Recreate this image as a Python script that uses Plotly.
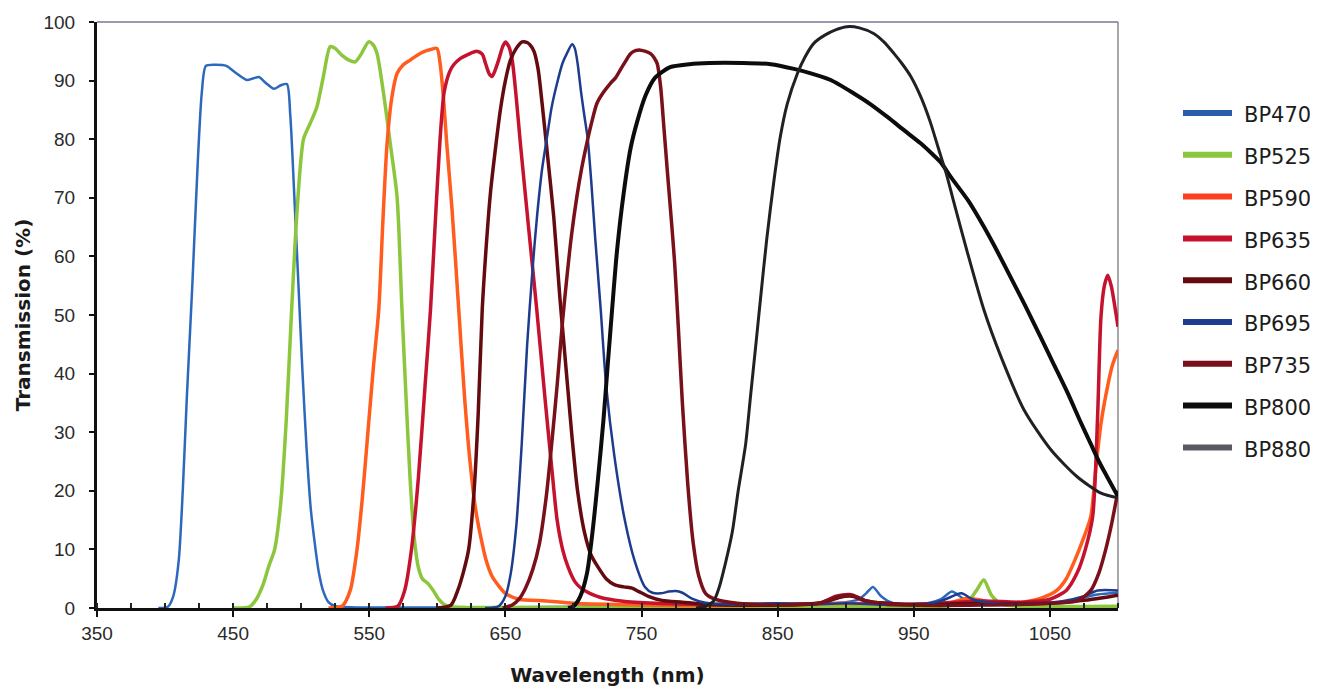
import plotly.graph_objects as go

# ---------------- data ----------------
SERIES = ["BP470", "BP525", "BP590", "BP635", "BP660", "BP695", "BP735", "BP800", "BP880"]

WL_BP470 = [395, 402, 406, 410, 413, 416, 420, 424, 427, 430, 437, 445, 452, 460, 465, 469, 474, 480, 485, 489.5,
            492, 495, 498, 501, 504, 507, 510, 513, 516, 520, 525, 540, 600, 700, 760, 800, 850, 880, 900, 910,
            915, 920, 926, 935, 960, 970, 978, 985, 995, 1020, 1050, 1070, 1085, 1100]
T_BP470 = [0, 0.2, 2, 8, 20, 36, 55, 76, 88, 92.5, 92.7, 92.5, 91.3, 90.1, 90.4, 90.6, 89.6, 88.6, 89.2, 89.4,
           84, 70, 55, 40, 27, 17, 11, 6, 3, 1, 0.3, 0.1, 0.1, 0.2, 0.5, 0.7, 0.8, 0.8, 1, 1.5,
           2.5, 3.6, 2, 0.8, 0.8, 1.5, 2.8, 1.8, 0.8, 0.7, 0.8, 1.5, 2.3, 2.6]

WL_BP525 = [450, 462, 467, 472, 476, 480.5, 485, 489, 493, 497, 501.7, 506.6, 511.5, 516.3, 521.3, 525, 530, 535,
            539.7, 544, 549.5, 552.5, 555.6, 560.5, 565.4, 570.4, 574, 577, 580, 583, 586, 589, 593, 597, 601,
            605, 610, 620, 700, 800, 900, 975, 990, 996, 1001.5, 1007, 1015, 1040, 1100]
T_BP525 = [0, 0.2, 1.5, 4, 7, 10, 18, 32, 51, 68, 80, 82.7, 85.5, 90.7, 95.8, 95.5, 94.3, 93.5,
           93.2, 94.5, 96.6, 96.2, 94.7, 87.8, 79.3, 70.2, 51, 36, 22, 12, 7, 5, 4.2, 3, 1.5,
           0.6, 0.2, 0.1, 0.1, 0.2, 0.3, 0.4, 1.2, 3, 4.8, 2.2, 0.6, 0.3, 0.3]

WL_BP590 = [520, 530, 536, 541, 545, 549, 553, 557, 560, 563, 566.5, 570.4, 575, 580, 585, 589.7, 595, 599.7, 602,
            604.5, 607, 610.8, 615.7, 620, 624, 628, 632, 636, 640, 645, 650, 660, 680, 700, 750, 800, 850, 900,
            950, 975, 988, 998, 1010, 1030, 1045, 1055, 1062, 1068, 1074, 1080, 1083.8, 1087.5, 1092.5, 1096, 1100]
T_BP590 = [0, 0.3, 3, 10, 19, 30, 41, 51, 66, 79, 87, 91.2, 92.7, 93.5, 94.3, 94.9, 95.3, 95.5, 93,
           87, 79, 68, 51, 36, 25, 17, 12, 8, 5.5, 3.8, 2.5, 1.5, 1.2, 0.8, 0.5, 0.4, 0.5, 0.8,
           0.6, 0.8, 1.6, 1.4, 0.8, 1, 1.8, 3, 5, 8, 11.5, 15.6, 24, 31.5, 38, 41.5, 44]

WL_BP635 = [562, 571, 576, 581, 586, 591, 595, 599, 602, 605, 609, 612, 617, 622, 629, 633, 635.3, 638, 640.2,
            642.5, 645, 648, 650, 652.5, 655, 658, 661, 667, 673, 679, 684, 688, 692, 696, 701, 706, 712, 720,
            735, 760, 800, 850, 880, 893, 903, 913, 930, 960, 1000, 1030, 1050, 1062, 1070, 1076, 1081.4, 1085,
            1087.5, 1090, 1092.5, 1095, 1098, 1100]
T_BP635 = [0, 0.3, 3, 10, 22, 38, 51, 68, 80, 88, 91.5, 92.7, 93.8, 94.4, 95, 94.5, 93, 91.2, 90.7,
           91.8, 93.5, 95.8, 96.6, 95.8, 93.5, 87, 79.3, 65, 51, 36, 24, 15, 10, 7, 4.5, 3.3, 2.5, 1.8,
           1.2, 0.8, 0.6, 0.6, 0.8, 2, 2.3, 1.3, 0.6, 0.7, 1.2, 1, 1.5, 3, 6, 10, 15.6, 32.6,
           49.7, 55, 56.8, 55, 51, 48]

WL_BP660 = [600, 610, 615, 619, 623, 627, 630, 633, 636, 639, 643, 646.3, 650, 653.7, 658, 662.3, 666, 668.4, 671,
            674, 677, 680.6, 685.5, 690, 693, 696, 699, 703, 708, 713, 718, 724, 730, 737, 743, 748, 755, 765,
            780, 800, 850, 885, 895, 905, 915, 950, 1000, 1050, 1075, 1090, 1100]
T_BP660 = [0, 0.5, 3, 6, 10, 20, 33, 51, 62, 70.8, 79, 85, 90, 93.5, 95.5, 96.6, 96.5, 96, 95,
           92, 86, 78, 66.8, 53, 45, 37, 29, 20, 13, 9, 7, 5, 4, 3.6, 3.4, 2.8, 2, 1.3,
           1, 0.6, 0.5, 1, 1.8, 2, 1.2, 0.6, 0.8, 0.8, 1.3, 1.8, 2.2]

WL_BP695 = [635, 645, 650, 654, 658, 662, 666, 670, 673.3, 677, 680.6, 684, 688, 692, 695.3, 699, 701, 703,
            705.6, 708, 710.5, 713, 716, 720, 724, 730, 737.7, 745, 752.5, 758, 764, 770, 775, 780, 787, 797, 820,
            850, 870, 900, 950, 970, 985, 993, 1010, 1040, 1060, 1075, 1085, 1100]
T_BP695 = [0, 0.3, 2, 6, 14, 28, 45, 58, 67, 75, 80.4, 85.5, 89.6, 93, 94.7, 96.2, 95.5, 93,
           88, 84, 80, 73, 63, 51, 38, 26, 15, 8, 3.6, 2.6, 2.5, 2.8, 2.9, 2.6, 1.6, 0.9, 0.6,
           0.8, 0.6, 0.8, 0.5, 1.2, 2.5, 1.5, 0.8, 0.8, 1.2, 2, 3, 3]

WL_BP735 = [648, 655, 660, 665, 670, 675, 680, 684, 688, 692, 695.2, 698.5, 702.5, 706, 709.8, 713.5, 717.2, 722,
            727, 731, 734.3, 738, 741.9, 745.5, 749.3, 753, 756.6, 759, 761.5, 764, 766.4, 768.8, 771.3, 774.3,
            777, 780, 784, 788, 792, 797, 804, 820, 850, 880, 895, 905, 915, 950, 1000, 1050, 1070, 1080, 1086,
            1091, 1095, 1100]
T_BP735 = [0, 0.5, 1.5, 3.5, 6.5, 11, 19, 28, 38, 49, 56.5, 63.5, 70.2, 75, 79.3, 83, 86.1, 88,
           89.5, 90.5, 91.8, 93.2, 94.6, 95.1, 95.2, 95, 94.6, 94, 92.9, 89, 82.1, 75, 67.9, 59,
           48, 35, 21, 11, 5.5, 2.5, 1.5, 0.8, 0.5, 0.8, 2, 2.2, 1.2, 0.5, 0.5, 0.8, 1.2, 3, 6,
           10, 14, 20]

WL_BP800 = [696, 700, 705, 710, 714, 718, 722, 725, 728.4, 732, 737, 742, 746.8, 753, 760, 771, 785, 800, 824, 845,
            862, 875, 889, 906, 918, 930.6, 943, 955, 963, 970, 977, 990, 1001.6, 1011, 1021, 1032, 1043, 1053,
            1063, 1072, 1080, 1086, 1092, 1100]
T_BP800 = [0, 0.3, 2, 6, 13, 22, 32, 41, 51, 61, 71, 78.5, 83, 87.5, 90.5, 92.3, 92.8, 93, 93, 92.8,
           92, 91.2, 90.1, 87.8, 86, 83.8, 81.5, 79.3, 77.6, 76, 73.6, 69.5, 65, 61, 56.5, 51.5, 46.3, 41.5,
           36.7, 32, 28, 25, 22.4, 19]

WL_BP880 = [790, 797, 803, 807, 812, 816.7, 821, 826.5, 830, 834, 837.5, 842, 847.3, 852, 857, 864.5, 870, 876.7,
            885, 893, 901, 910, 920.8, 928, 935.5, 941, 947.8, 955, 962, 968, 974, 979, 989, 1001.6, 1014, 1031,
            1050.7, 1070, 1087.5, 1100]
T_BP880 = [0, 0.3, 1.2, 3.5, 8, 13, 20, 28, 36, 45, 53, 63, 73, 80.5, 86, 91.2, 94, 96.4,
           97.8, 98.7, 99.2, 99, 98, 96.6, 94.6, 93, 90.7, 87.3, 83, 78.5, 74, 69.6, 61, 50.8, 42.9, 33.8,
           27, 22.4, 19.6, 18.8]

X_TICKS = [350, 450, 550, 650, 750, 850, 950, 1050]
Y_TICKS = [0, 10, 20, 30, 40, 50, 60, 70, 80, 90, 100]
X_RANGE = [350, 1100]
Y_RANGE = [0, 100]

DATA = {
    "BP470": (WL_BP470, T_BP470), "BP525": (WL_BP525, T_BP525), "BP590": (WL_BP590, T_BP590),
    "BP635": (WL_BP635, T_BP635), "BP660": (WL_BP660, T_BP660), "BP695": (WL_BP695, T_BP695),
    "BP735": (WL_BP735, T_BP735), "BP800": (WL_BP800, T_BP800), "BP880": (WL_BP880, T_BP880),
}

# ---------------- style ----------------
LINE_COLORS = {
    "BP470": "#2c68bd", "BP525": "#8cc63c", "BP590": "#ff5c1e", "BP635": "#c5122e", "BP660": "#640b10",
    "BP695": "#1d3c8f", "BP735": "#7a1019", "BP800": "#0c0c0c", "BP880": "#222024",
}
LEGEND_COLORS = dict(LINE_COLORS, BP880="#5c5862", BP470="#2a5eac", BP590="#fb3f1f")
LINE_WIDTHS = {
    "BP470": 2.5, "BP525": 3.5, "BP590": 3.5, "BP635": 3.5, "BP660": 3.5,
    "BP695": 2.5, "BP735": 3.5, "BP800": 4, "BP880": 3,
}

# the page body adds an 8px margin around the figure
PAGE_OFF = 8
W, H = 1318 - PAGE_OFF, 687 - PAGE_OFF
PLOT_L, PLOT_T = 97, 22          # plot-area corner on screen
PW, PH = 1021, 586
M_L, M_T = PLOT_L - PAGE_OFF, PLOT_T - PAGE_OFF
M_R, M_B = W - M_L - PW, H - M_T - PH

fig = go.Figure()
for name in SERIES:
    wl, t = DATA[name]
    fig.add_trace(go.Scatter(
        x=wl, y=t, mode="lines", name=name, showlegend=False,
        line=dict(color=LINE_COLORS[name], width=LINE_WIDTHS[name], shape="spline", smoothing=0.7),
        hoverinfo="x+y+name",
    ))

tick_font = dict(family="Liberation Sans, Arial, sans-serif", size=19, color="#2a2a2a")
title_font = dict(family="DejaVu Sans, sans-serif", size=20, color="#1a1a1a", weight="bold")

fig.update_layout(
    width=W, height=H,
    margin=dict(l=M_L, r=M_R, t=M_T, b=M_B, autoexpand=False),
    paper_bgcolor="white", plot_bgcolor="white",
    showlegend=False,
    xaxis=dict(
        range=X_RANGE, tickvals=X_TICKS, ticktext=[str(v) for v in X_TICKS],
        ticks="outside", ticklen=6, tickwidth=2, tickcolor="#111",
        showline=True, linecolor="#111", linewidth=3,
        showgrid=False, zeroline=False, tickfont=tick_font,
        minor=dict(dtick=25, tick0=350, ticks="inside", ticklen=5, tickwidth=1.5, tickcolor="#222", showgrid=False),
        title=dict(text="Wavelength (nm)", font=title_font, standoff=26),
        automargin=False, ticklabelstandoff=0,
    ),
    yaxis=dict(
        range=Y_RANGE, tickvals=Y_TICKS,
        ticks="outside", ticklen=5, tickwidth=2, tickcolor="#111",
        showline=True, linecolor="#111", linewidth=3,
        showgrid=False, zeroline=False, tickfont=tick_font,
        title=dict(text="Transmission (%)", font=title_font, standoff=8),
        automargin=False, ticklabelstandoff=10,
    ),
)

# thin frame on top and right of the plotting area
fig.add_shape(type="line", xref="paper", yref="paper", x0=0, x1=1, y0=1, y1=1,
              line=dict(color="#7f7592", width=1.5), layer="below")
fig.add_shape(type="line", xref="paper", yref="paper", x0=1, x1=1, y0=0, y1=1,
              line=dict(color="#6e6e74", width=1.2), layer="below")

# legend (drawn at the right of the plot), positions in screen px
LEG_X0, LEG_X1, LEG_TX = 1183, 1232, 1242
LEG_Y0, LEG_DY = 113, 41.8
for i, name in enumerate(SERIES):
    ypx = LEG_Y0 + i * LEG_DY
    yp = 1 - (ypx - PLOT_T) / PH
    fig.add_shape(type="line", xref="paper", yref="paper",
                  x0=(LEG_X0 - PLOT_L) / PW, x1=(LEG_X1 - PLOT_L) / PW, y0=yp, y1=yp,
                  line=dict(color=LEGEND_COLORS[name], width=6))
    fig.add_annotation(xref="paper", yref="paper", x=(LEG_TX - PLOT_L) / PW, y=yp - 0.004,
                       text=name, showarrow=False, xanchor="left", yanchor="middle",
                       font=dict(family="DejaVu Sans, sans-serif", size=21, color="#1c1c1c"))

fig.write_html("out.html")
